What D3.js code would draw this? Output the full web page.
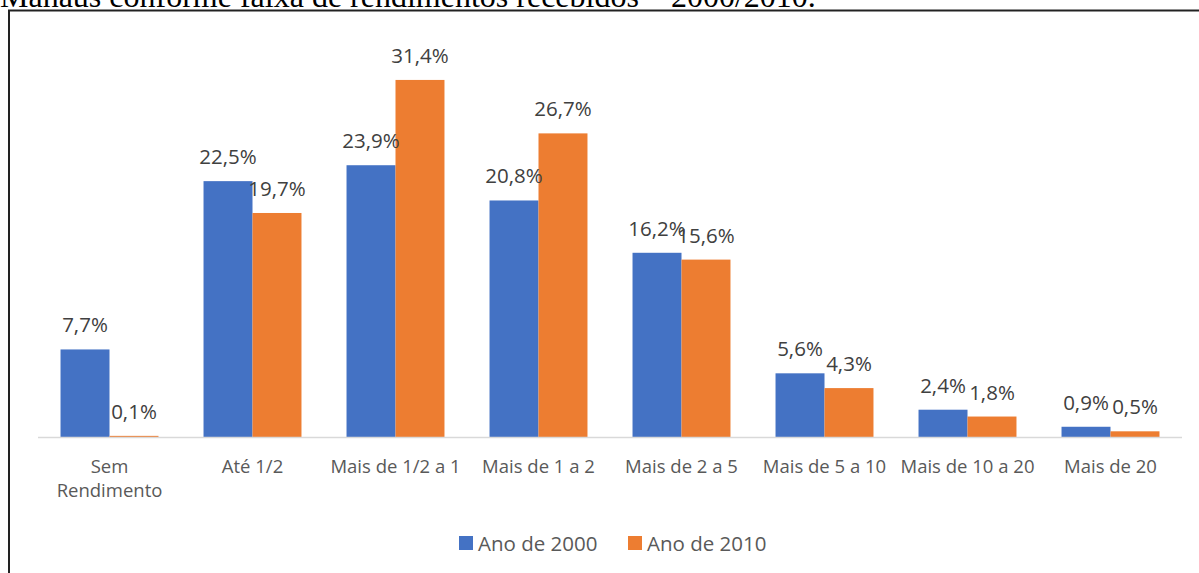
<!DOCTYPE html>
<html>
<head>
<meta charset="utf-8">
<script src="https://cdn.jsdelivr.net/npm/d3@7"></script>
<style>
  body { margin: 0; background: #fff; }
  svg { display: block; }
</style>
</head>
<body>
<div id="wrapper"></div>
<script>
const categories = ["Sem\nRendimento", "Até 1/2", "Mais de 1/2 a 1", "Mais de 1 a 2",
  "Mais de 2 a 5", "Mais de 5 a 10", "Mais de 10 a 20", "Mais de 20"];
const seriesNames = ["Ano de 2000", "Ano de 2010"];
const values2000 = [7.7, 22.5, 23.9, 20.8, 16.2, 5.6, 2.4, 0.9];
const values2010 = [0.1, 19.7, 31.4, 26.7, 15.6, 4.3, 1.8, 0.5];
const colors = ["#4472c4", "#ed7d31"];
const titleText = "Manaus conforme faixa de rendimentos recebidos – 2000/2010.";

function drawChart() {
  const width = 1199, height = 573;
  const fmt = v => d3.format(".1f")(v).replace(".", ",") + "%";

  const svg = d3.select("#wrapper").append("svg")
    .attr("width", width).attr("height", height);

  // caption of the page, cut by the top edge as in the source
  svg.append("text")
    .attr("x", 0).attr("y", 7)
    .attr("font-family", "Liberation Serif, serif")
    .attr("font-size", 32)
    .attr("fill", "#000")
    .text(titleText);

  // frame
  svg.append("path")
    .attr("d", `M9,${height + 5} V10.5 H${width + 5}`)
    .attr("fill", "none").attr("stroke", "#222").attr("stroke-width", 2);

  const x0 = d3.scaleBand()
    .domain(d3.range(categories.length))
    .range([38, 1182])
    .paddingInner(0.315)
    .paddingOuter(0.1575);

  const x1 = d3.scaleBand()
    .domain([0, 1])
    .range([0, x0.bandwidth()]);

  const y = d3.scaleLinear().domain([0, 35]).range([437, 39]);

  const data = categories.map((c, i) => ({ i, vals: [values2000[i], values2010[i]] }));

  const groups = svg.append("g").selectAll("g")
    .data(data).join("g")
    .attr("transform", d => `translate(${x0(d.i)},0)`);

  groups.selectAll("rect")
    .data(d => d.vals.map((v, s) => ({ v, s })))
    .join("rect")
    .attr("x", d => x1(d.s))
    .attr("y", d => y(d.v))
    .attr("width", x1.bandwidth())
    .attr("height", d => y(0) - y(d.v))
    .attr("fill", d => colors[d.s]);

  // axis line
  svg.append("line")
    .attr("x1", 38).attr("x2", 1182)
    .attr("y1", y(0) + 0.5).attr("y2", y(0) + 0.5)
    .attr("stroke", "#d9d9d9").attr("stroke-width", 1.5);

  groups.selectAll("text.lbl")
    .data(d => d.vals.map((v, s) => ({ v, s })))
    .join("text")
    .attr("class", "lbl")
    .attr("x", d => x1(d.s) + x1.bandwidth() / 2)
    .attr("y", d => y(d.v) - 17)
    .attr("text-anchor", "middle")
    .attr("font-family", "Open Sans, sans-serif")
    .attr("font-size", 20.5)
    .attr("fill", "#404040")
    .text(d => fmt(d.v));

  // category labels
  const cat = svg.append("g").selectAll("text")
    .data(categories).join("text")
    .attr("x", (d, i) => x0(i) + x0.bandwidth() / 2)
    .attr("y", 473)
    .attr("text-anchor", "middle")
    .attr("font-family", "Open Sans, sans-serif")
    .attr("font-size", 18.5)
    .attr("fill", "#595959");
  cat.selectAll("tspan")
    .data(d => d.split("\n")).join("tspan")
    .attr("x", function () { return this.parentNode.getAttribute("x"); })
    .attr("dy", (d, i) => i === 0 ? 0 : 24)
    .text(d => d);

  // legend
  const legend = svg.append("g").attr("transform", "translate(459,536)");
  const legX = [0, 169];
  seriesNames.forEach((name, s) => {
    const g = legend.append("g").attr("transform", `translate(${legX[s]},0)`);
    g.append("rect").attr("width", 14).attr("height", 14).attr("fill", colors[s]);
    g.append("text").attr("x", 19).attr("y", 14.5)
      .attr("font-family", "Open Sans, sans-serif")
      .attr("font-size", 20.5).attr("fill", "#595959")
      .text(name);
  });
}
drawChart();
</script>
</body>
</html>
